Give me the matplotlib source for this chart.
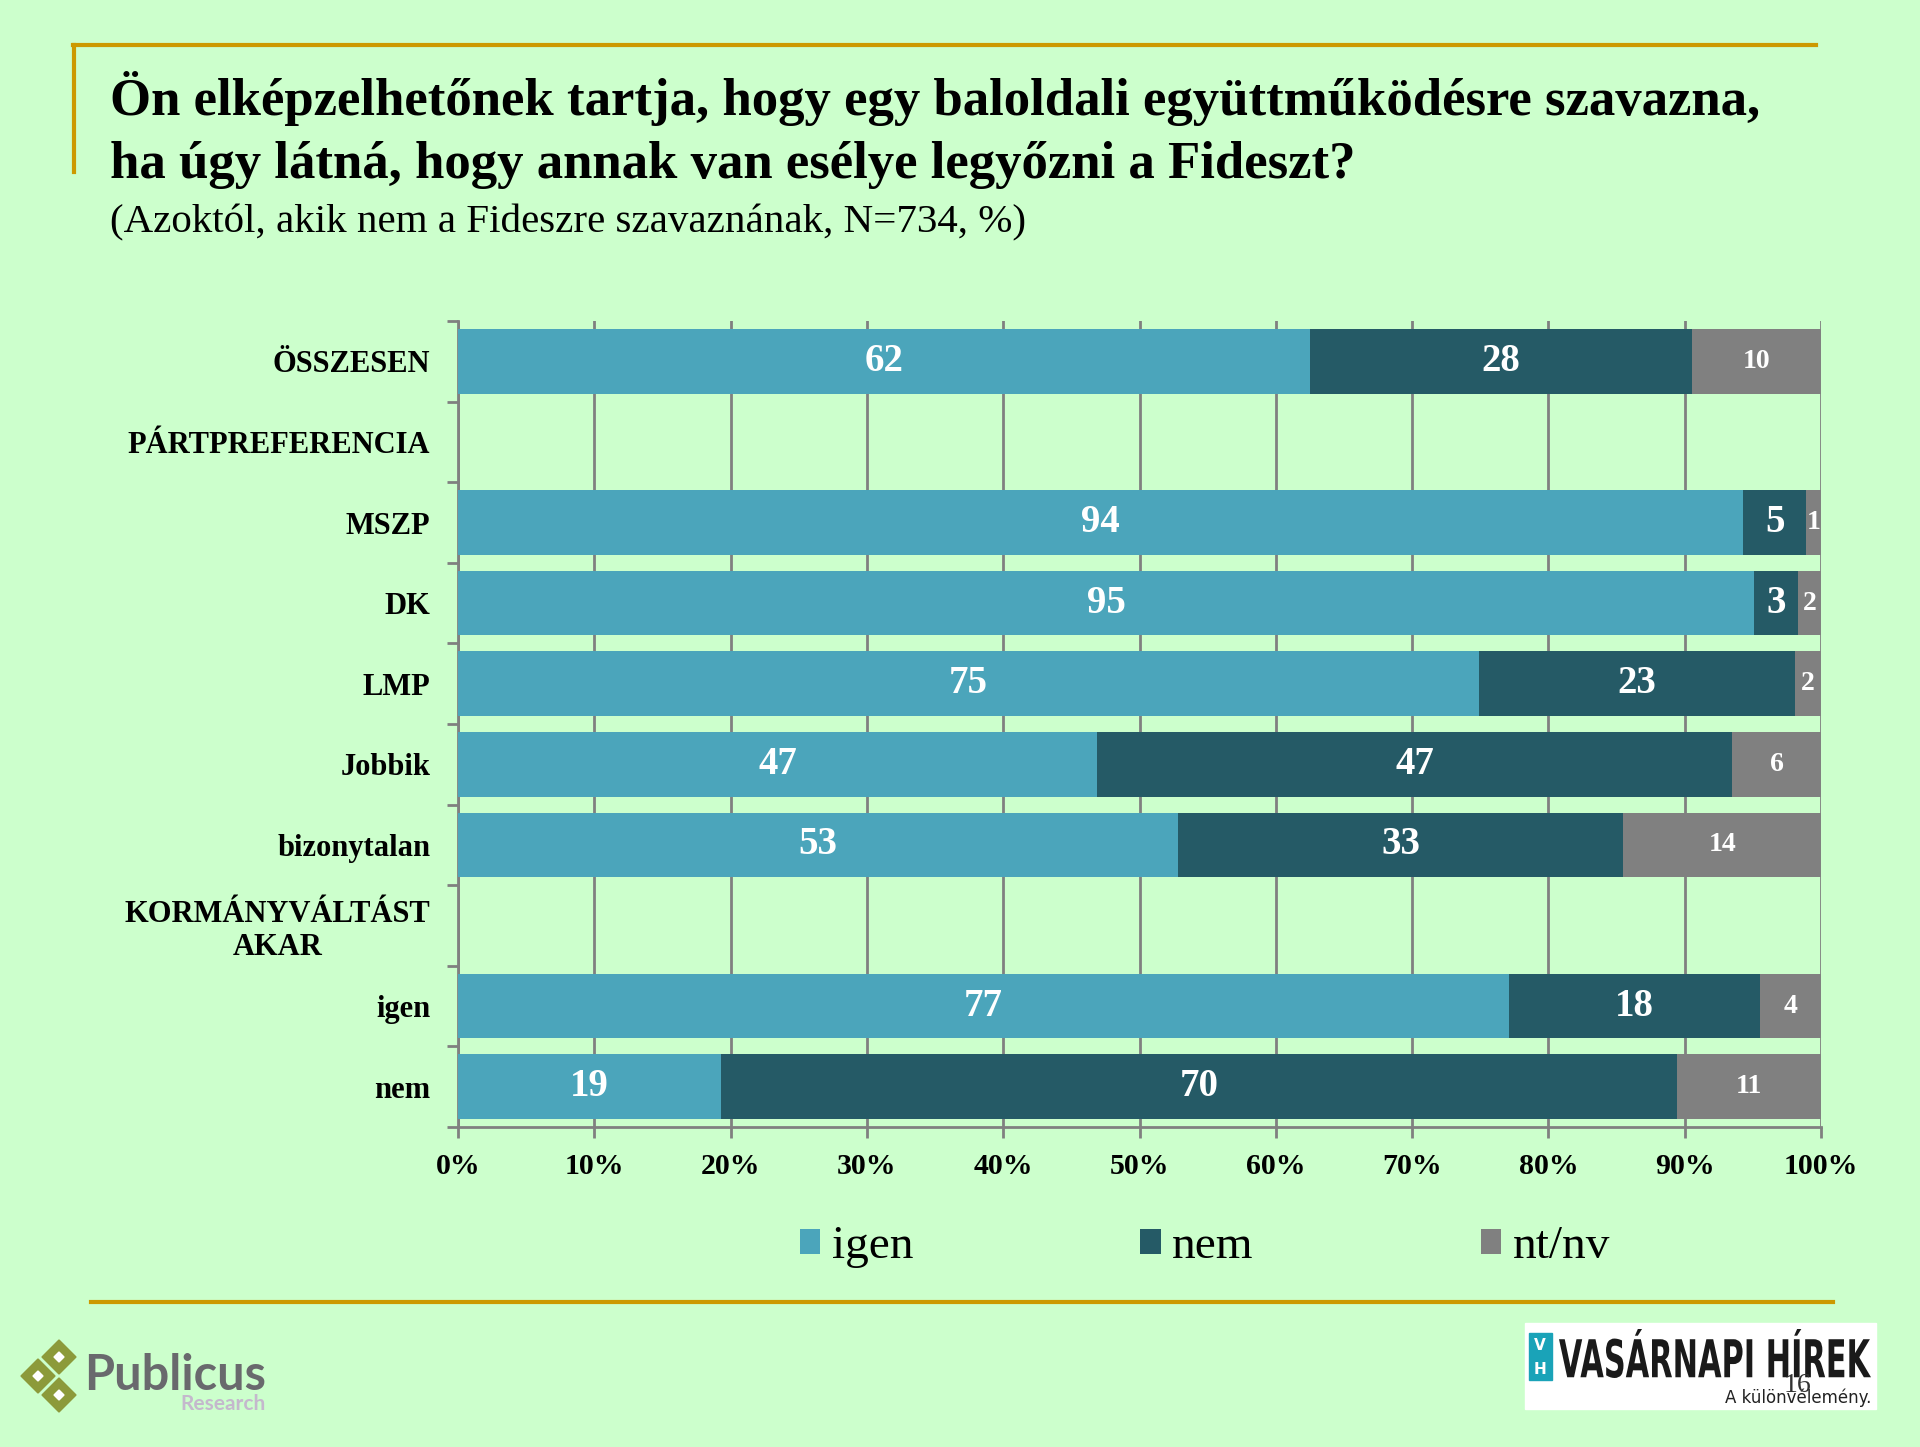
import matplotlib
matplotlib.use("Agg")
import matplotlib.pyplot as plt
import matplotlib.transforms as mtransforms
from matplotlib.patches import Rectangle, Polygon, PathPatch
from matplotlib.textpath import TextPath
from matplotlib.font_manager import FontProperties
from matplotlib.lines import Line2D

# data (header rows have no bars)
categories = ["ÖSSZESEN", "PÁRTPREFERENCIA", "MSZP", "DK", "LMP", "Jobbik",
              "bizonytalan", "KORMÁNYVÁLTÁST\nAKAR", "igen", "nem"]
igen_v = [62.5, 0, 94.3, 95.1, 74.9, 46.9, 52.8, 0, 77.1, 19.3]
nem_v = [28.0, 0, 4.6, 3.2, 23.2, 46.6, 32.7, 0, 18.4, 70.1]
nt_v = [9.5, 0, 1.1, 1.7, 1.9, 6.5, 14.5, 0, 4.5, 10.6]
igen_lbl = [62, None, 94, 95, 75, 47, 53, None, 77, 19]
nem_lbl = [28, None, 5, 3, 23, 47, 33, None, 18, 70]
nt_lbl = [10, None, 1, 2, 2, 6, 14, None, 4, 11]
series_names = ["igen", "nem", "nt/nv"]
xticks = list(range(0, 101, 10))

BG = "#CCFFCC"
GOLD = "#CC9900"
C_IGEN = "#4BA5BB"
C_NEM = "#255A66"
C_NT = "#808080"
SERIF = "Liberation Serif"

fig = plt.figure(figsize=(19.2, 14.47), dpi=100, facecolor=BG)
W, H = 1920, 1447

def fx(px):
    return px / W

def fy(py):
    return 1 - py / H

# decorative gold lines
fig.add_artist(Line2D([fx(73), fx(1816)], [fy(45), fy(45)], color=GOLD, lw=3))
fig.add_artist(Line2D([fx(74), fx(74)], [fy(45), fy(172)], color=GOLD, lw=3))
fig.add_artist(Line2D([fx(91), fx(1833)], [fy(1302), fy(1302)], color=GOLD, lw=3))

# title
fig.text(fx(110), fy(99), "Ön elképzelhetőnek tartja, hogy egy baloldali együttműködésre szavazna,",
         fontsize=38, fontweight="bold", family=SERIF, va="center", ha="left")
fig.text(fx(110), fy(165), "ha úgy látná, hogy annak van esélye legyőzni a Fideszt?",
         fontsize=38, fontweight="bold", family=SERIF, va="center", ha="left")
fig.text(fx(110), fy(223), "(Azoktól, akik nem a Fideszre szavaznának, N=734, %)",
         fontsize=29.5, family=SERIF, va="center", ha="left")

ax = fig.add_axes([fx(458), fy(1127), (1821 - 458) / W, (1127 - 321) / H])
ax.set_facecolor(BG)

y = list(range(len(categories)))
left2 = [a for a in igen_v]
left3 = [a + b for a, b in zip(igen_v, nem_v)]
b1 = ax.barh(y, igen_v, height=0.8, color=C_IGEN, label=series_names[0], zorder=3)
b2 = ax.barh(y, nem_v, left=left2, height=0.8, color=C_NEM, label=series_names[1], zorder=3)
b3 = ax.barh(y, nt_v, left=left3, height=0.8, color=C_NT, label=series_names[2], zorder=3)

for i in y:
    if igen_lbl[i] is not None:
        ax.text(igen_v[i] / 2, i, str(igen_lbl[i]), color="white", fontsize=28,
                fontweight="bold", family=SERIF, ha="center", va="center", zorder=4)
        ax.text(left2[i] + nem_v[i] / 2, i, str(nem_lbl[i]), color="white", fontsize=28,
                fontweight="bold", family=SERIF, ha="center", va="center", zorder=4)
        ax.text(left3[i] + nt_v[i] / 2, i, str(nt_lbl[i]), color="white", fontsize=20,
                fontweight="bold", family=SERIF, ha="center", va="center", zorder=4)

ax.set_xlim(0, 100)
ax.set_ylim(len(categories) - 0.5, -0.5)
ax.set_xticks(xticks)
ax.set_xticklabels(["%d%%" % t for t in xticks], fontsize=21.5, fontweight="bold", family=SERIF)
ax.set_yticks(y)
ax.set_yticklabels(categories, fontsize=22, fontweight="bold", family=SERIF,
                   multialignment="center")
ax.set_yticks([i - 0.5 for i in range(len(categories) + 1)], minor=True)
ax.tick_params(axis="y", which="major", length=0, pad=20)
ax.tick_params(axis="y", which="minor", length=8, width=2, color=C_NT, direction="out")
ax.tick_params(axis="x", which="major", length=8, width=2, color=C_NT, direction="out", pad=11)
ax.grid(axis="x", color=C_NT, lw=2, zorder=0)
ax.set_axisbelow(True)
for s in ["top", "right"]:
    ax.spines[s].set_visible(False)
for s in ["left", "bottom"]:
    ax.spines[s].set_color(C_NT)
    ax.spines[s].set_linewidth(2)

leg = fig.legend(handles=[b1, b2, b3], labels=series_names, loc="center",
                 bbox_to_anchor=(fx(1205), fy(1247)), ncol=3, frameon=False,
                 prop=FontProperties(family=SERIF, size=34),
                 handlelength=0.43, handleheight=0.45, handletextpad=0.25, columnspacing=4.8)

# Publicus Research logo
for cx, cy in [(59, 1357), (38, 1376), (59, 1395)]:
    d = 17
    fig.add_artist(Polygon([(fx(cx), fy(cy - d)), (fx(cx + d), fy(cy)), (fx(cx), fy(cy + d)),
                            (fx(cx - d), fy(cy))], closed=True, color="#8C9A3A",
                           transform=fig.transFigure))
    d = 5
    fig.add_artist(Polygon([(fx(cx), fy(cy - d)), (fx(cx + d), fy(cy)), (fx(cx), fy(cy + d)),
                            (fx(cx - d), fy(cy))], closed=True, color="white",
                           transform=fig.transFigure))
fig.text(fx(84), fy(1375), "Publicus", fontsize=35, fontweight="bold", family="Lato",
         color="#69696D", va="center", ha="left")
fig.text(fx(266), fy(1404), "Research", fontsize=15, fontweight="bold", family="Lato",
         color="#C4B8CC", va="center", ha="right")

# Vasárnapi Hírek logo
fig.add_artist(Rectangle((fx(1525), fy(1409)), (1876 - 1525) / W, (1409 - 1323) / H,
                         color="white", transform=fig.transFigure))
fig.add_artist(Rectangle((fx(1529), fy(1380)), (1552 - 1529) / W, (1380 - 1333) / H,
                         color="#1AA3B8", transform=fig.transFigure))
fig.text(fx(1540), fy(1345), "V", fontsize=11, fontweight="bold", color="white",
         ha="center", va="center")
fig.text(fx(1540), fy(1369), "H", fontsize=11, fontweight="bold", color="white",
         ha="center", va="center")
tp = TextPath((0, 0), "VASÁRNAPI HÍREK", size=100, prop=FontProperties(family="DejaVu Sans", weight="bold"))
bb = tp.get_extents()
sx = (1871 - 1559) / bb.width
sy = (1378 - 1329) / (bb.height)
tr = mtransforms.Affine2D().translate(-bb.x0, -bb.y0).scale(sx, sy).translate(1559, H - 1378)
fig.add_artist(PathPatch(tr.transform_path(tp), color="#1A1A1A", lw=0,
                         transform=mtransforms.IdentityTransform()))
fig.text(fx(1871), fy(1398), "A különvélemény.", fontsize=12, color="#222222",
         ha="right", va="center", family="Liberation Sans Narrow")
fig.text(fx(1797), fy(1385), "16", fontsize=20, family=SERIF, color="#333333",
         ha="center", va="center")

fig.savefig("out.png", dpi=100, facecolor=BG)
